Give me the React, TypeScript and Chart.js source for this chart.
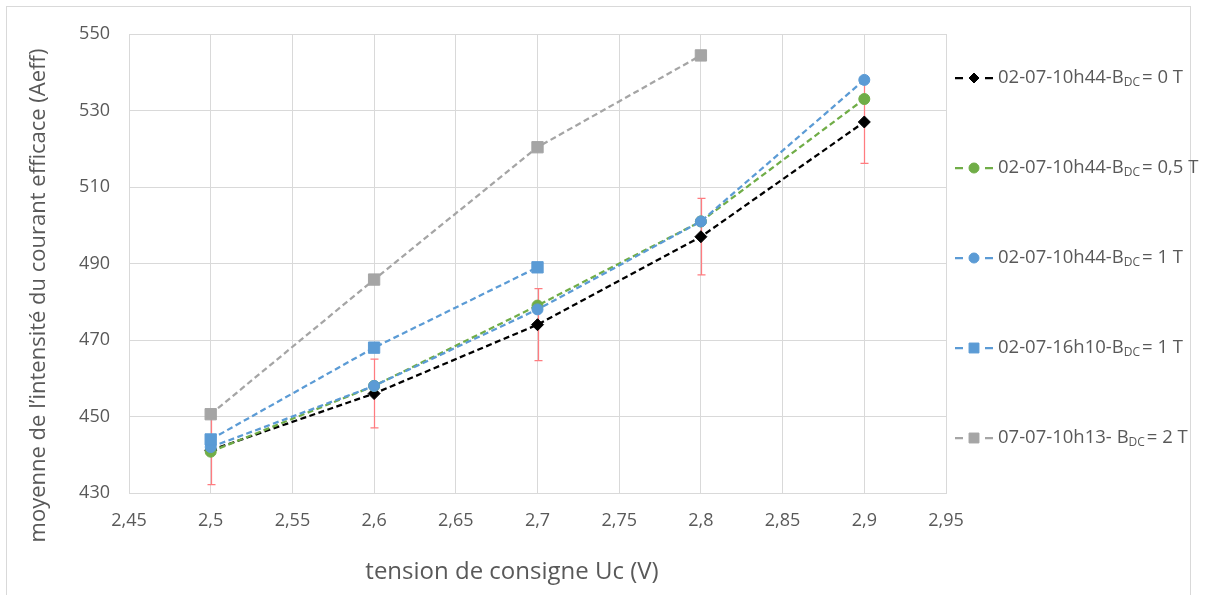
import React, { useEffect, useRef } from 'react';
import { Chart, registerables } from 'chart.js';

Chart.register(...registerables);

// ---- data ----
const xValues = [2.5, 2.6, 2.7, 2.8, 2.9];
const series0T = [441.2, 456, 474, 497, 527];
const series05T = [440.8, 458, 479, 501, 533];
const series1T = [442, 458, 478, 501, 538];
const series1T1610 = [444, 468, 489];
const series2T = [450.6, 485.8, 520.4, 544.4];
const errors0T = [9, 9, 9.4, 10, 10.8];

const xTicks = [2.45, 2.5, 2.55, 2.6, 2.65, 2.7, 2.75, 2.8, 2.85, 2.9, 2.95];
const yTicks = [430, 450, 470, 490, 510, 530, 550];

const legendPrefixes = ['02-07-10h44-B', '02-07-10h44-B', '02-07-10h44-B', '02-07-16h10-B', '07-07-10h13- B'];
const legendSub = 'DC';
const legendSuffixes = ['= 0 T', '= 0,5 T', '= 1 T', '= 1 T', '= 2 T'];

const xTitle = 'tension de consigne Uc (V)';
const yTitle = 'moyenne de l\u2019intensité du courant efficace (Aeff)';

// ---- styles ----
const TEXT = '#595959';
const GRID = '#d9d9d9';
const FONT = '"Open Sans", "DejaVu Sans", sans-serif';
const colors = ['#000000', '#70AD47', '#5B9BD5', '#5B9BD5', '#A5A5A5'];
const styles = ['rectRot', 'circle', 'circle', 'rect', 'rect'];
const radii = [6, 5.5, 5.5, 8, 8];
const allSeries = [series0T, series05T, series1T, series1T1610, series2T];

function toPoints(vals: number[]) {
  return vals.map((v, i) => ({ x: xValues[i], y: v }));
}

function drawMarker(ctx: CanvasRenderingContext2D, style: string, x: number, y: number, r: number, color: string) {
  ctx.save();
  ctx.fillStyle = color;
  ctx.strokeStyle = color;
  ctx.lineWidth = 1;
  ctx.setLineDash([]);
  ctx.beginPath();
  if (style === 'circle') {
    ctx.arc(x, y, r, 0, Math.PI * 2);
  } else if (style === 'rect') {
    const s = Math.SQRT1_2 * r;
    ctx.rect(x - s, y - s, 2 * s, 2 * s);
  } else {
    ctx.moveTo(x - r, y);
    ctx.lineTo(x, y - r);
    ctx.lineTo(x + r, y);
    ctx.lineTo(x, y + r);
    ctx.closePath();
  }
  ctx.fill();
  ctx.stroke();
  ctx.restore();
}

const framePlugin = {
  id: 'frame',
  beforeDraw(chart: any) {
    const ctx = chart.ctx as CanvasRenderingContext2D;
    ctx.save();
    ctx.fillStyle = '#ffffff';
    ctx.fillRect(0, 0, chart.width, chart.height);
    ctx.strokeStyle = GRID;
    ctx.lineWidth = 1;
    ctx.strokeRect(6.5, 6.5, 1184, 640);
    ctx.restore();
  },
};

const errorBarPlugin = {
  id: 'errorBars',
  beforeDatasetsDraw(chart: any) {
    const ctx = chart.ctx as CanvasRenderingContext2D;
    const xs = chart.scales.x;
    const ys = chart.scales.y;
    ctx.save();
    ctx.strokeStyle = '#FF7C80';
    ctx.lineWidth = 1.25;
    series0T.forEach((v, i) => {
      const px = Math.round(xs.getPixelForValue(xValues[i])) + 0.5;
      const top = ys.getPixelForValue(v + errors0T[i]);
      const bot = ys.getPixelForValue(v - errors0T[i]);
      ctx.beginPath();
      ctx.moveTo(px, top);
      ctx.lineTo(px, bot);
      ctx.moveTo(px - 4, top);
      ctx.lineTo(px + 4, top);
      ctx.moveTo(px - 4, bot);
      ctx.lineTo(px + 4, bot);
      ctx.stroke();
    });
    ctx.restore();
  },
};

const annotationsPlugin = {
  id: 'annotations',
  afterDraw(chart: any) {
    const ctx = chart.ctx as CanvasRenderingContext2D;
    const area = chart.chartArea;
    ctx.save();
    // axis titles
    ctx.fillStyle = TEXT;
    ctx.textAlign = 'center';
    ctx.textBaseline = 'middle';
    ctx.font = `24px ${FONT}`;
    ctx.fillText(xTitle, area.left + 383, 572);
    ctx.save();
    ctx.font = `22px ${FONT}`;
    ctx.translate(39, (area.top + area.bottom) / 2 + 32);
    ctx.rotate(-Math.PI / 2);
    ctx.fillText(yTitle, 0, 0);
    ctx.restore();

    // legend
    const lx = area.right + 9;
    legendPrefixes.forEach((prefix, i) => {
      const y = area.top + 44 + i * 90;
      const color = colors[i];
      ctx.save();
      ctx.strokeStyle = color;
      ctx.lineWidth = 2.25;
      ctx.beginPath();
      ctx.moveTo(lx, y);
      ctx.lineTo(lx + 8, y);
      ctx.moveTo(lx + 30, y);
      ctx.lineTo(lx + 38, y);
      ctx.stroke();
      ctx.restore();
      drawMarker(ctx, styles[i], lx + 19, y, styles[i] === 'rect' ? 7 : 5, color);
      ctx.fillStyle = TEXT;
      ctx.textAlign = 'left';
      ctx.textBaseline = 'middle';
      ctx.font = `18.5px ${FONT}`;
      let tx = lx + 43;
      ctx.fillText(prefix, tx, y);
      tx += ctx.measureText(prefix).width;
      ctx.font = `12px ${FONT}`;
      ctx.fillText(legendSub, tx, y + 5);
      tx += ctx.measureText(legendSub).width + 2;
      ctx.font = `18.5px ${FONT}`;
      ctx.fillText(legendSuffixes[i], tx, y);
    });
    ctx.restore();
  },
};

export default function App() {
  const canvasRef = useRef<HTMLCanvasElement | null>(null);

  useEffect(() => {
    const canvas = canvasRef.current;
    if (!canvas) return;
    const datasets = allSeries.map((s, i) => ({
      label: legendPrefixes[i] + legendSub + legendSuffixes[i],
      data: toPoints(s),
      borderColor: colors[i],
      backgroundColor: colors[i],
      borderWidth: 2.25,
      borderDash: [6, 3.5],
      pointStyle: styles[i],
      pointRadius: radii[i],
      pointBorderWidth: 1,
      pointBorderColor: colors[i],
      pointBackgroundColor: colors[i],
      tension: 0,
      fill: false,
      order: 10 - i,
    }));

    const chart = new Chart(canvas, {
      type: 'line',
      data: { datasets },
      plugins: [framePlugin, errorBarPlugin, annotationsPlugin],
      options: {
        animation: false,
        responsive: false,
        devicePixelRatio: 1,
        layout: { padding: { left: 0, top: 34, right: 260, bottom: 0 } },
        plugins: {
          legend: { display: false },
          tooltip: { enabled: false },
          title: { display: false },
        },
        scales: {
          x: {
            type: 'linear',
            min: 2.45,
            max: 2.95,
            afterBuildTicks: (scale: any) => {
              scale.ticks = xTicks.map((v) => ({ value: v }));
            },
            afterFit: (scale: any) => {
              scale.height = 102;
            },
            ticks: {
              color: TEXT,
              font: { family: FONT, size: 18 },
              padding: 17,
              maxRotation: 0,
              autoSkip: false,
              callback: (v: any) => String(Number(Number(v).toFixed(2))).replace('.', ','),
            },
            grid: { color: GRID, lineWidth: 1, drawTicks: false },
            border: { color: GRID },
          },
          y: {
            type: 'linear',
            min: 430,
            max: 550,
            afterBuildTicks: (scale: any) => {
              scale.ticks = yTicks.map((v) => ({ value: v }));
            },
            afterFit: (scale: any) => {
              scale.width = 129;
            },
            ticks: {
              color: TEXT,
              font: { family: FONT, size: 18 },
              padding: 19,
            },
            grid: { color: GRID, lineWidth: 1, drawTicks: false },
            border: { color: GRID },
          },
        },
      },
    } as any);
    return () => chart.destroy();
  }, []);

  return (
    <div style={{ position: 'fixed', left: 0, top: 0, width: 1206, height: 595, background: '#fff' }}>
      <canvas ref={canvasRef} width={1206} height={595} style={{ display: 'block' }} />
    </div>
  );
}
